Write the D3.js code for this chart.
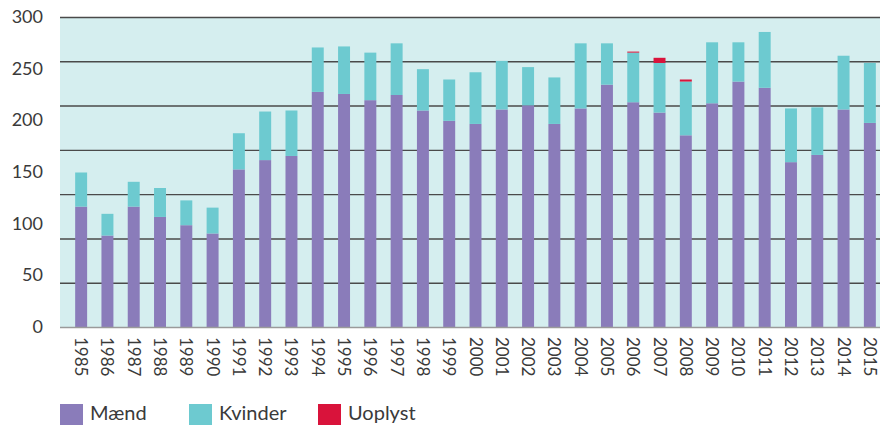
<!DOCTYPE html>
<html>
<head>
<meta charset="utf-8">
<script src="https://cdn.jsdelivr.net/npm/d3@7"></script>
<style>
  body { margin: 0; background: #fff; }
  svg { display: block; }
  text { font-family: Lato, "Open Sans", sans-serif; fill: #3a3a3a; }
</style>
</head>
<body>
<svg id="chart" width="880" height="425"></svg>
<script>
var years = ["1985","1986","1987","1988","1989","1990","1991","1992","1993","1994","1995","1996","1997","1998","1999","2000","2001","2002","2003","2004","2005","2006","2007","2008","2009","2010","2011","2012","2013","2014","2015"];
var maend   = [117, 89,117,107, 99, 91,153,162,166,228,226,220,225,210,200,197,211,215,197,212,235,218,208,186,217,238,232,160,167,211,198];
var kvinder = [ 33, 21, 24, 28, 24, 25, 35, 47, 44, 43, 46, 46, 50, 40, 40, 50, 47, 37, 45, 63, 40, 48, 48, 52, 59, 38, 54, 52, 46, 52, 58];
var uoplyst = [  0,  0,  0,  0,  0,  0,  0,  0,  0,  0,  0,  0,  0,  0,  0,  0,  0,  0,  0,  0,  0,  1,  5,  2,  0,  0,  0,  0,  0,  0,  0];
var seriesNames = ["Mænd","Kvinder","Uoplyst"];
var colors = ["#8a7cba","#6dcad0","#d9133b"];
var yTicks = [0,50,100,150,200,250,300];

var svg = d3.select("#chart");
var plotLeft = 60, plotRight = 880, plotTop = 17.5, plotBottom = 327.5;

var x = d3.scaleBand().domain(years).range([68, 883]).paddingInner(0.545).paddingOuter(0.2725);
var y = d3.scaleLinear().domain([0, 300]).range([plotBottom, plotTop]);

// background of plot area
svg.append("rect")
  .attr("x", plotLeft).attr("y", plotTop)
  .attr("width", plotRight - plotLeft).attr("height", plotBottom - plotTop)
  .attr("fill", "#d5eeef");

// grid lines (7 equal divisions, not tied to the labels)
var gridVals = d3.range(0, 8).map(function(i){ return i * 300 / 7; });
svg.append("g").selectAll("line")
  .data(gridVals.slice(1))
  .enter().append("line")
  .attr("x1", plotLeft).attr("x2", plotRight)
  .attr("y1", function(d){ return y(d); })
  .attr("y2", function(d){ return y(d); })
  .attr("stroke", "#4a4a4a")
  .attr("stroke-width", 1.4);

// stacked bars
var rows = years.map(function(yr, i){
  return { year: yr, "Mænd": maend[i], "Kvinder": kvinder[i], "Uoplyst": uoplyst[i] };
});
var stack = d3.stack().keys(seriesNames)(rows);

svg.append("g").selectAll("g")
  .data(stack)
  .enter().append("g")
  .attr("fill", function(d, i){ return colors[i]; })
  .selectAll("rect")
  .data(function(d){ return d; })
  .enter().append("rect")
  .attr("x", function(d){ return x(d.data.year); })
  .attr("width", x.bandwidth())
  .attr("y", function(d){ return y(d[1]); })
  .attr("height", function(d){ return y(d[0]) - y(d[1]); });

// bottom axis line
svg.append("line")
  .attr("x1", plotLeft).attr("x2", plotRight)
  .attr("y1", plotBottom).attr("y2", plotBottom)
  .attr("stroke", "#9a9a9a").attr("stroke-width", 1.5);

// y labels
svg.append("g").selectAll("text")
  .data(yTicks)
  .enter().append("text")
  .attr("x", 43)
  .attr("y", function(d){ return y(d) + 1; })
  .attr("text-anchor", "end")
  .attr("dominant-baseline", "middle")
  .style("font-size", "18px")
  .text(function(d){ return d; });

// x labels, rotated
svg.append("g").selectAll("text")
  .data(years)
  .enter().append("text")
  .attr("transform", function(d){
    return "translate(" + (x(d) + x.bandwidth() / 2 - 6) + ",337) rotate(90)";
  })
  .attr("text-anchor", "start")
  .style("font-size", "17px")
  .text(function(d){ return d; });

// legend
var legendX = [60, 189, 318];
var legend = svg.append("g").selectAll("g")
  .data(seriesNames)
  .enter().append("g")
  .attr("transform", function(d, i){ return "translate(" + legendX[i] + ",404)"; });
legend.append("rect")
  .attr("width", 23).attr("height", 21)
  .attr("fill", function(d, i){ return colors[i]; });
legend.append("text")
  .attr("x", 30).attr("y", 16)
  .style("font-size", "20px")
  .text(function(d){ return d; });
</script>
</body>
</html>
